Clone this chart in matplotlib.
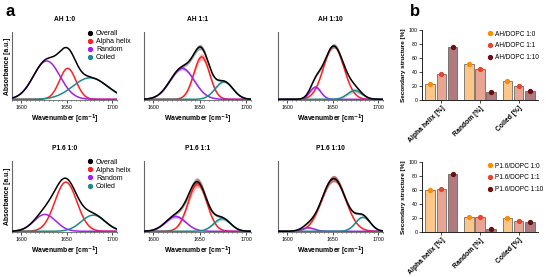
import numpy as np
import matplotlib
matplotlib.use("Agg")
import matplotlib.pyplot as plt
from matplotlib.ticker import MultipleLocator

plt.rcParams['font.family'] = ['Liberation Sans', 'DejaVu Sans']

# Fitted peak components (center [cm-1], sigma [cm-1], height [a.u.], band half-width [a.u.])
# order: Alpha helix, Random, Coiled
panel_titles = ["AH 1:0", "AH 1:1", "AH 1:10", "P1.6 1:0", "P1.6 1:1", "P1.6 1:10"]
centers = [[1651, 1628, 1675.5],
           [1652, 1631, 1676],
           [1651, 1631, 1674],
           [1649, 1626, 1679],
           [1647.5, 1624, 1674],
           [1651, 1623, 1683]]
sigmas = [[9, 14.5, 19],
          [8.5, 13, 9.5],
          [11, 6, 8],
          [12, 12, 13],
          [10, 11, 9],
          [13, 7, 8]]
heights = [[0.46, 0.57, 0.32],
           [0.63, 0.46, 0.26],
           [0.79, 0.18, 0.13],
           [0.70, 0.24, 0.23],
           [0.68, 0.21, 0.18],
           [0.75, 0.05, 0.20]]
bands = [[0.0, 0.0, 0.0],
         [0.05, 0.025, 0.015],
         [0.02, 0.025, 0.035],
         [0.0, 0.0, 0.0],
         [0.06, 0.025, 0.025],
         [0.045, 0.01, 0.01]]
overall_band = [0.0, 0.04, 0.035, 0.0, 0.055, 0.045]

component_names = ["Alpha helix", "Random", "Coiled"]
component_colors = ["#ff2020", "#a020f0", "#1f8a8a"]

# Panel b: secondary structure [%]
structures = ["Alpha helix [%]", "Random [%]", "Coiled [%]"]
ah_labels = ["AH/DOPC 1:0", "AH/DOPC 1:1", "AH/DOPC 1:10"]
ah_values = [[23, 37, 75], [51, 44, 12], [27, 20, 13]]
p16_labels = ["P1.6/DOPC 1:0", "P1.6/DOPC 1:1", "P1.6/DOPC 1:10"]
p16_values = [[60, 62, 83], [21, 22, 4], [20, 16, 14]]

dot_colors = ["#ff8c00", "#e8452c", "#6b0f0f"]
bar_colors = ["#fbc68a", "#e9a593", "#b07a7e"]

fig = plt.figure(figsize=(5.46, 2.77), dpi=100)

W, H = 546.0, 277.0
col_x = [(12, 117), (144, 251), (278, 383)]
row_y = [(32, 100), (161, 232)]

wn = np.linspace(1585, 1710, 600)


def gauss(x, c, s, h):
    return h * np.exp(-(x - c) ** 2 / (2 * s ** 2))


for i in range(6):
    r, c = divmod(i, 3)
    x0, x1 = col_x[c]
    y0, y1 = row_y[r]
    ax = fig.add_axes([x0 / W, 1 - y1 / H, (x1 - x0) / W, (y1 - y0) / H])
    comps = [gauss(wn, centers[i][k], sigmas[i][k], heights[i][k]) for k in range(3)]
    total = np.sum(comps, axis=0)
    if overall_band[i] > 0:
        b = overall_band[i] * total / total.max()
        ax.fill_between(wn, total - b, total + b, color="#444444", alpha=0.5, lw=0)
    ax.plot(wn, total, color="black", lw=1.1, label="Overall", zorder=5)
    for k in range(3):
        if bands[i][k] > 0:
            b = bands[i][k] * comps[k] / comps[k].max()
            ax.fill_between(wn, comps[k] - b, comps[k] + b, color=component_colors[k],
                            alpha=0.35, lw=0)
        ax.plot(wn, comps[k], color=component_colors[k], lw=1.1,
                label=component_names[k], zorder=4)
    ax.set_xlim(1590, 1705)
    ax.set_ylim(-0.01, 1.0)
    ax.set_yticks([])
    ax.xaxis.set_major_locator(MultipleLocator(50))
    ax.xaxis.set_minor_locator(MultipleLocator(5))
    ax.tick_params(axis="x", which="major", labelsize=3.8, length=2, width=0.5, pad=1.5)
    ax.tick_params(axis="x", which="minor", length=1, width=0.4)
    for s in ["top", "right"]:
        ax.spines[s].set_visible(False)
    ax.spines["left"].set_color("#666666")
    ax.spines["bottom"].set_color("#666666")
    ax.spines["left"].set_linewidth(0.8)
    ax.spines["bottom"].set_linewidth(0.6)
    ax.set_title(panel_titles[i], fontsize=4.8, fontweight="bold", pad=8)
    ax.set_xlabel("Wavenumber [cm$^{\\mathbf{-1}}$]", fontsize=4.9, fontweight="bold", labelpad=2)
    if c == 0:
        ax.set_ylabel("Absorbance [a.u.]", fontsize=4.9, fontweight="bold", labelpad=1)
        handles = [plt.Line2D([], [], ls="", marker="o", ms=2.8, color=col)
                   for col in ["black"] + component_colors]
        ax.legend(handles, ["Overall"] + component_names, loc="upper left",
                  bbox_to_anchor=(0.68, 1.07), fontsize=5.0, frameon=False,
                  handletextpad=0.2, labelspacing=0.15, handlelength=1.2,
                  borderaxespad=0)

fig.text(5 / W, 1 - 12 / H, "a", fontsize=12, fontweight="bold", va="center")
fig.text(410 / W, 1 - 12 / H, "b", fontsize=12, fontweight="bold", va="center")

b_rows = [(30, 100), (162, 232)]
for r, (labels, values) in enumerate([(ah_labels, ah_values), (p16_labels, p16_values)]):
    y0, y1 = b_rows[r]
    ax = fig.add_axes([422 / W, 1 - y1 / H, 116 / W, (y1 - y0) / H])
    x = np.arange(len(structures))
    offs = [-0.29, 0.0, 0.29]
    for k in range(3):
        vals = [values[g][k] for g in range(len(structures))]
        ax.bar(x + offs[k], vals, width=0.25, color=bar_colors[k], edgecolor="#555555",
               linewidth=0.5, zorder=2)
        ax.plot(x + offs[k], vals, ls="", marker="o", ms=2.8, color=dot_colors[k],
                label=labels[k], zorder=3)
    ax.set_xlim(-0.5, 2.5)
    ax.set_ylim(0, 100)
    ax.yaxis.set_major_locator(MultipleLocator(20))
    ax.set_xticks(x)
    ax.set_xticklabels(structures, rotation=45, ha="right", rotation_mode="anchor",
                       fontsize=4.9, fontweight="bold")
    ax.tick_params(axis="y", labelsize=3.8, length=2, width=0.5, pad=1)
    ax.tick_params(axis="x", length=2, width=0.5, pad=1.5)
    for s in ["top", "right"]:
        ax.spines[s].set_visible(False)
    ax.spines["left"].set_linewidth(0.6)
    ax.spines["bottom"].set_linewidth(0.6)
    ax.set_ylabel("Secondary structure [%]", fontsize=4.6, fontweight="bold", labelpad=2)
    ax.legend(loc="upper left", bbox_to_anchor=(0.53, 1.03), fontsize=4.7, frameon=False,
              handletextpad=0.1, labelspacing=0.75, handlelength=1.2, borderaxespad=0)

fig.savefig("out.png", dpi=100)
